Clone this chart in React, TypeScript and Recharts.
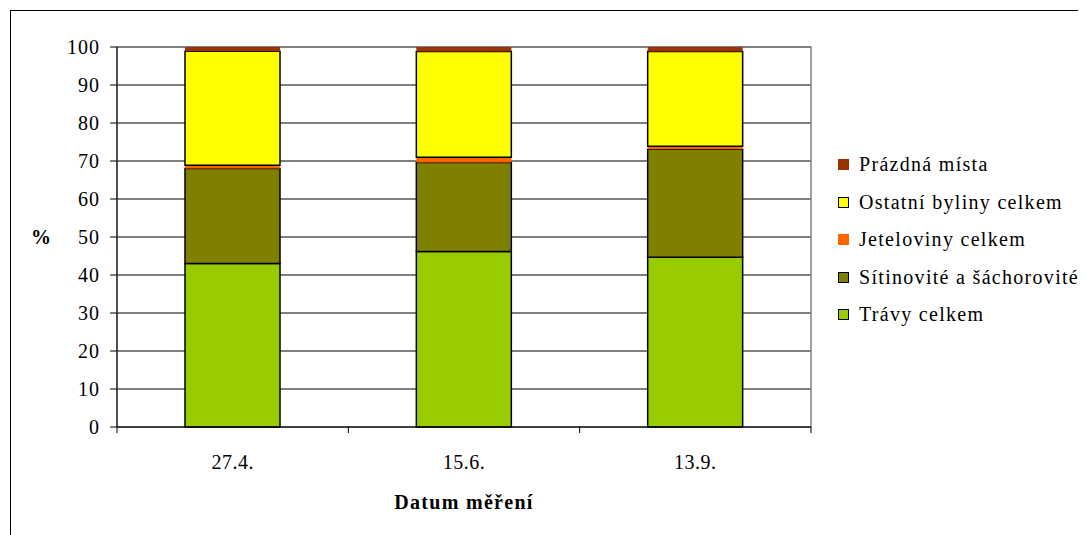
import React from "react";
import { BarChart, Bar, XAxis, YAxis, CartesianGrid, Legend, ReferenceArea } from "recharts";

// Measurement dates
const dates = ["27.4.", "15.6.", "13.9."];

// Share of cover (%) per group, bottom to top of each stack
const travy = [43.0, 46.2, 44.7];
const sitinovite = [25.0, 23.4, 28.4];
const jeteloviny = [0.9, 1.4, 0.8];
const ostatni = [30.0, 27.8, 24.9];
const prazdna = [1.1, 1.2, 1.2];

const yTicks = [0, 10, 20, 30, 40, 50, 60, 70, 80, 90, 100];

const series = [
  { key: "travy", name: "Trávy celkem", values: travy, color: "#99CC00", outlined: true },
  { key: "sitinovite", name: "Sítinovité a šáchorovité", values: sitinovite, color: "#808000", outlined: true },
  { key: "jeteloviny", name: "Jeteloviny celkem", values: jeteloviny, color: "#FF6600", outlined: false },
  { key: "ostatni", name: "Ostatní byliny celkem", values: ostatni, color: "#FFFF00", outlined: true },
  { key: "prazdna", name: "Prázdná místa", values: prazdna, color: "#993300", outlined: false },
];

const data = dates.map((d, i) => {
  const row: Record<string, string | number> = { date: d };
  series.forEach((s) => {
    row[s.key] = s.values[i];
  });
  return row;
});

const FONT = '"Liberation Serif", "Times New Roman", serif';
const FS = 20;
const W = 1078;
const H = 527;
const MARGIN = { top: 39, right: 275, bottom: 18, left: 19 };
const Y_AXIS_W = 90;
const PLOT_W = W - MARGIN.left - Y_AXIS_W - MARGIN.right;
const HALF_BAND = PLOT_W / dates.length / 2;

// Category label centred under the bar, tick marks on the category boundaries
const DateTick = (props: any) => {
  const { x, y, payload, index } = props;
  const last = index === dates.length - 1;
  return (
    <g>
      <line x1={x - HALF_BAND} x2={x - HALF_BAND} y1={y} y2={y + 6} stroke="#000" />
      {last && <line x1={x + HALF_BAND} x2={x + HALF_BAND} y1={y} y2={y + 6} stroke="#000" />}
      <text x={x} y={y + 42} textAnchor="middle" fontFamily={FONT} fontSize={FS} letterSpacing={0.5} fill="#000">
        {payload.value}
      </text>
    </g>
  );
};

const LegendBox = () => (
  <div style={{ fontFamily: FONT, fontSize: FS, color: "#000" }}>
    {[...series].reverse().map((s) => (
      <div key={s.key} style={{ display: "flex", alignItems: "center", height: 37.5, whiteSpace: "nowrap" }}>
        <span
          style={{
            display: "inline-block",
            width: 11,
            height: 11,
            boxSizing: "border-box",
            background: s.color,
            border: s.outlined ? "1.5px solid #000" : "none",
            marginRight: 10,
          }}
        />
        <span style={{ letterSpacing: 1.3 }}>{s.name}</span>
      </div>
    ))}
  </div>
);

export default function App() {
  return (
    <div style={{ position: "relative", width: W, height: H, overflow: "hidden" }}>
      <div
        style={{
          position: "absolute",
          left: 2,
          top: 2,
          width: 3000,
          height: 3000,
          borderLeft: "1px solid #000",
          borderTop: "1px solid #000",
        }}
      />
      <div style={{ position: "absolute", left: 0, top: 0 }}>
        <BarChart width={W} height={H} data={data} margin={MARGIN} barSize={95}>
          <CartesianGrid vertical={false} stroke="#000" strokeWidth={1} />
          <ReferenceArea y1={0} y2={100} fill="none" stroke="#808080" strokeWidth={1.5} ifOverflow="visible" />
          <XAxis
            dataKey="date"
            height={90}
            stroke="#000"
            tickLine={false}
            tickSize={0}
            tickMargin={0}
            tick={<DateTick />}
            label={{
              value: "Datum měření",
              position: "insideBottom",
              offset: 8,
              fontFamily: FONT,
              fontSize: FS,
              fontWeight: "bold",
              letterSpacing: 1.3,
              fill: "#000",
            }}
          />
          <YAxis
            width={Y_AXIS_W}
            domain={[0, 100]}
            ticks={yTicks}
            interval={0}
            stroke="#000"
            tickSize={7}
            tickMargin={10}
            tick={{ fontFamily: FONT, fontSize: FS, letterSpacing: 1, fill: "#000" }}
            label={{
              value: "%",
              position: "insideLeft",
              offset: 4,
              fontFamily: FONT,
              fontSize: FS,
              fontWeight: "bold",
              fill: "#000",
            }}
          />
          <Legend
            layout="horizontal"
            verticalAlign="middle"
            content={<LegendBox />}
            wrapperStyle={{ left: 830, top: 138, width: 260 }}
          />
          {series.map((s) => (
            <Bar
              key={s.key}
              dataKey={s.key}
              name={s.name}
              stackId="a"
              fill={s.color}
              stroke={s.outlined ? "#000" : "none"}
              strokeWidth={s.outlined ? 1.5 : 0}
              isAnimationActive={false}
            />
          ))}
        </BarChart>
      </div>
    </div>
  );
}
